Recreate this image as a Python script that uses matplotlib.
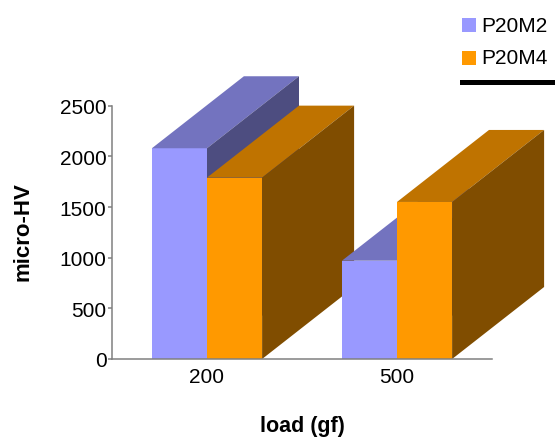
import matplotlib.pyplot as plt
from matplotlib.patches import Polygon, Rectangle

plt.rcParams['font.family'] = ['Liberation Sans', 'DejaVu Sans']

loads = ["200", "500"]
series = ["P20M2", "P20M4"]
p20m2 = [2080, 970]
p20m4 = [1790, 1550]

front = ["#9999ff", "#ff9900"]
top = ["#7373bf", "#bf7300"]
side = ["#4d4d80", "#804d00"]

W, H = 555, 439
fig = plt.figure(figsize=(W / 100, H / 100), dpi=100)
ax_l, ax_b, ax_w, ax_h = 112, 79, 380, 253.3
ax = fig.add_axes([ax_l / W, ax_b / H, ax_w / W, ax_h / H])
ax.set_xlim(-0.5, 1.5)
ax.set_ylim(0, 2500)

# depth of the fake 3D boxes, in pixels, turned into data units
dx = 92 / ax_w * 2.0
dy = 72 / ax_h * 2500
w = 0.29

z = 2
for i in range(len(loads)):
    for j, vals in enumerate([p20m2, p20m4]):
        x0 = i - w if j == 0 else i
        v = vals[i]
        ax.bar(x0, v, width=w, align='edge', color=front[j], zorder=z)
        ax.add_patch(Polygon([(x0, v), (x0 + w, v), (x0 + w + dx, v + dy), (x0 + dx, v + dy)],
                             closed=True, color=top[j], zorder=z, clip_on=False, lw=0))
        ax.add_patch(Polygon([(x0 + w, 0), (x0 + w + dx, dy), (x0 + w + dx, v + dy), (x0 + w, v)],
                             closed=True, color=side[j], zorder=z, clip_on=False, lw=0))
        z += 1

ax.set_xticks(range(len(loads)))
ax.set_xticklabels(loads)
ax.set_yticks([0, 500, 1000, 1500, 2000, 2500])
ax.tick_params(axis='x', length=0, pad=6, labelsize=15)
ax.tick_params(axis='y', length=3, width=1.1, color='#808080', pad=1, labelsize=15)
for s in ['top', 'right']:
    ax.spines[s].set_visible(False)
for s in ['left', 'bottom']:
    ax.spines[s].set_color('#808080')
    ax.spines[s].set_linewidth(1.1)
    ax.spines[s].set_zorder(10)

fig.text(302 / W, 1 - 427 / H, "load (gf)", ha='center', va='center',
         fontsize=15.5, fontweight='bold')
fig.text(23 / W, 1 - 232 / H, "micro-HV", ha='center', va='center',
         rotation=90, fontsize=16, fontweight='bold')

# legend
for j, name in enumerate(series):
    yc = 26 + 33 * j
    fig.add_artist(Rectangle((462 / W, 1 - (yc + 7) / H), 14 / W, 14 / H,
                             transform=fig.transFigure, color=front[j], lw=0))
    fig.text(481 / W, 1 - yc / H, name, ha='left', va='center', fontsize=15)
fig.add_artist(Rectangle((460 / W, 1 - 86 / H), 95 / W, 5 / H,
                         transform=fig.transFigure, color='black', lw=0))

fig.savefig("out.png", dpi=100)
